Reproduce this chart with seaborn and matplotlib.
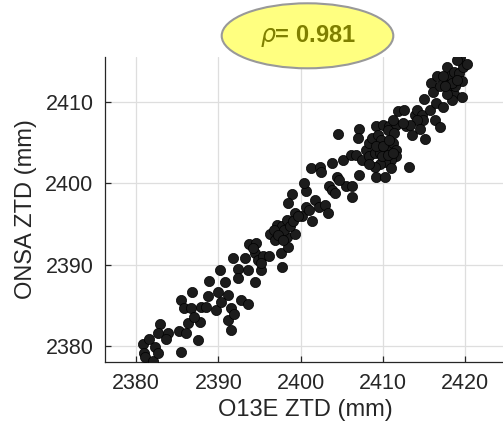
import matplotlib
matplotlib.use("Agg")
import matplotlib.pyplot as plt
from matplotlib.patches import Ellipse
import seaborn as sns
import pandas as pd

o13e_ztd = [
    2380.8, 2380.9, 2381.1, 2382.0, 2381.5, 2382.3, 2382.6, 2382.9, 2382.7, 2383.8,
    2383.6, 2385.4, 2385.2, 2386.1, 2387.5, 2385.4, 2386.8, 2385.8, 2386.7, 2386.3,
    2387.7, 2387.0, 2387.9, 2388.7, 2388.5, 2389.7, 2390.0, 2390.8, 2391.1, 2390.3,
    2391.5, 2391.1, 2391.5, 2391.9, 2392.8, 2393.6, 2388.8, 2390.2, 2391.8, 2392.4,
    2392.4, 2393.2, 2393.6, 2394.4, 2393.7, 2394.6, 2394.4, 2395.2, 2394.8, 2395.4,
    2396.1, 2397.7, 2397.6, 2398.5, 2396.3, 2396.9, 2397.1, 2397.7, 2398.3, 2399.3,
    2398.0, 2398.3, 2399.0, 2398.5, 2399.3, 2400.1, 2401.4, 2400.6, 2400.4, 2401.3,
    2402.4, 2402.5, 2401.8, 2402.2, 2403.0, 2403.3, 2400.6, 2403.4, 2403.8, 2404.4,
    2404.2, 2405.5, 2406.3, 2406.2, 2404.7, 2403.8, 2405.1, 2406.1, 2406.7, 2407.1,
    2404.5, 2407.1, 2407.0, 2407.9, 2408.3, 2408.7, 2409.2, 2410.0, 2409.4, 2409.8,
    2407.5, 2408.3, 2409.0, 2409.6, 2410.4, 2410.8, 2411.2, 2411.6, 2411.6, 2411.0,
    2410.2, 2409.6, 2409.0, 2409.2, 2410.2, 2411.0, 2413.2, 2409.9, 2410.8, 2411.6,
    2411.8, 2412.6, 2412.8, 2413.6, 2413.9, 2414.1, 2414.7, 2414.9, 2415.1, 2415.7,
    2416.3, 2416.9, 2415.0, 2415.9, 2416.1, 2416.5, 2417.3, 2416.6, 2417.8, 2416.9,
    2417.8, 2418.2, 2418.6, 2419.2, 2419.4, 2419.8, 2420.2, 2419.0, 2419.6, 2418.2,
    2418.6, 2419.6, 2418.4, 2417.8, 2418.8, 2417.3, 2414.1, 2414.5, 2413.3, 2411.2,
    2412.4, 2410.6, 2411.4, 2396.7, 2397.3, 2397.9, 2398.7, 2399.1, 2399.7, 2401.0,
    2394.2, 2395.2, 2409.2, 2410.0, 2410.6, 2411.2, 2408.3, 2410.8, 2418.4, 2419.0,
    2417.6,
]
onsa_ztd = [
    2380.3, 2379.1, 2378.7, 2378.1, 2380.9, 2379.9, 2379.1, 2382.7, 2381.6, 2381.6,
    2380.9, 2379.3, 2381.8, 2381.6, 2380.7, 2385.7, 2386.6, 2384.6, 2384.6, 2382.8,
    2383.0, 2383.6, 2384.8, 2386.1, 2384.8, 2384.4, 2386.6, 2387.9, 2386.3, 2385.4,
    2384.6, 2383.2, 2381.9, 2383.9, 2385.6, 2385.2, 2388.0, 2389.3, 2390.8, 2389.5,
    2388.3, 2390.8, 2389.3, 2387.9, 2392.5, 2392.6, 2391.4, 2389.3, 2390.6, 2391.0,
    2391.0, 2389.7, 2391.4, 2392.2, 2393.8, 2393.0, 2394.9, 2394.7, 2393.4, 2393.8,
    2394.3, 2395.5, 2398.7, 2397.6, 2396.3, 2396.0, 2395.3, 2399.0, 2400.0, 2401.8,
    2402.0, 2401.4, 2397.9, 2397.1, 2397.3, 2396.3, 2397.1, 2399.6, 2399.2, 2400.8,
    2398.8, 2399.6, 2399.6, 2398.3, 2400.4, 2402.5, 2402.9, 2403.5, 2403.5, 2401.0,
    2406.0, 2406.6, 2405.5, 2404.1, 2404.9, 2405.5, 2407.0, 2407.1, 2405.9, 2405.3,
    2402.9, 2403.3, 2403.7, 2403.7, 2404.1, 2404.5, 2404.9, 2404.1, 2403.3, 2402.9,
    2402.6, 2402.4, 2402.0, 2400.8, 2400.8, 2401.8, 2402.0, 2403.3, 2407.0, 2407.1,
    2408.8, 2409.0, 2407.0, 2405.9, 2408.4, 2409.0, 2408.4, 2407.8, 2405.4, 2409.0,
    2407.8, 2406.9, 2410.3, 2412.3, 2411.2, 2409.8, 2409.4, 2413.2, 2414.3, 2411.9,
    2412.3, 2413.1, 2413.7, 2413.5, 2415.5, 2414.3, 2414.6, 2415.1, 2412.5, 2411.4,
    2411.0, 2410.6, 2410.2, 2411.0, 2411.9, 2413.1, 2407.8, 2406.7, 2407.1, 2407.8,
    2407.4, 2406.5, 2406.1, 2394.3, 2393.6, 2393.0, 2394.7, 2395.3, 2395.9, 2396.7,
    2392.0, 2390.2, 2404.5, 2404.5, 2403.5, 2403.7, 2402.4, 2405.3, 2412.3, 2412.7,
    2411.9,
]
x_ticks = [2380, 2390, 2400, 2410, 2420]
y_ticks = [2380, 2390, 2400, 2410]
rho_text = "0.981"

df = pd.DataFrame({"O13E": o13e_ztd, "ONSA": onsa_ztd})

sns.set_style("white")
plt.rcParams["font.family"] = ["Liberation Sans", "DejaVu Sans"]

fig = plt.figure(figsize=(5.03, 4.28), dpi=100)
ax = fig.add_axes([0.208, 0.155, 0.80, 0.712])

sns.scatterplot(data=df, x="O13E", y="ONSA", ax=ax, s=54,
                color="#1c1c1c", edgecolor="black", linewidth=0.5, zorder=3)

ax.set_xlim(2376.15, 2425.1)
ax.set_ylim(2378.07, 2415.5)
ax.set_xticks(x_ticks)
ax.set_yticks(y_ticks)
ax.grid(True, color="#dedede", linewidth=0.9, zorder=0)
ax.set_axisbelow(True)
for side in ["top", "right"]:
    ax.spines[side].set_visible(False)
for side in ["left", "bottom"]:
    ax.spines[side].set_color("#262626")
    ax.spines[side].set_linewidth(0.9)
ax.tick_params(direction="in", length=4, width=0.9, color="#262626",
               labelsize=15.5, labelcolor="#262626", pad=8, left=True, bottom=True)
ax.set_xlabel("O13E ZTD (mm)", fontsize=17, color="#262626", labelpad=4)
ax.set_ylabel("ONSA ZTD (mm)", fontsize=17, color="#262626", labelpad=6)

ell = Ellipse((307.5 / 503, 1 - 35.8 / 428), 171.6 / 503, 65 / 428,
              transform=fig.transFigure, facecolor="#ffff80",
              edgecolor="#999999", linewidth=1.5, zorder=5)
fig.patches.append(ell)
fig.text(307.5 / 503, 1 - 36 / 428, r"$\rho$= " + rho_text, ha="center", va="center",
         fontsize=17, fontweight="bold", color="#7f7f00", zorder=6)

fig.savefig("out.png", dpi=100)
